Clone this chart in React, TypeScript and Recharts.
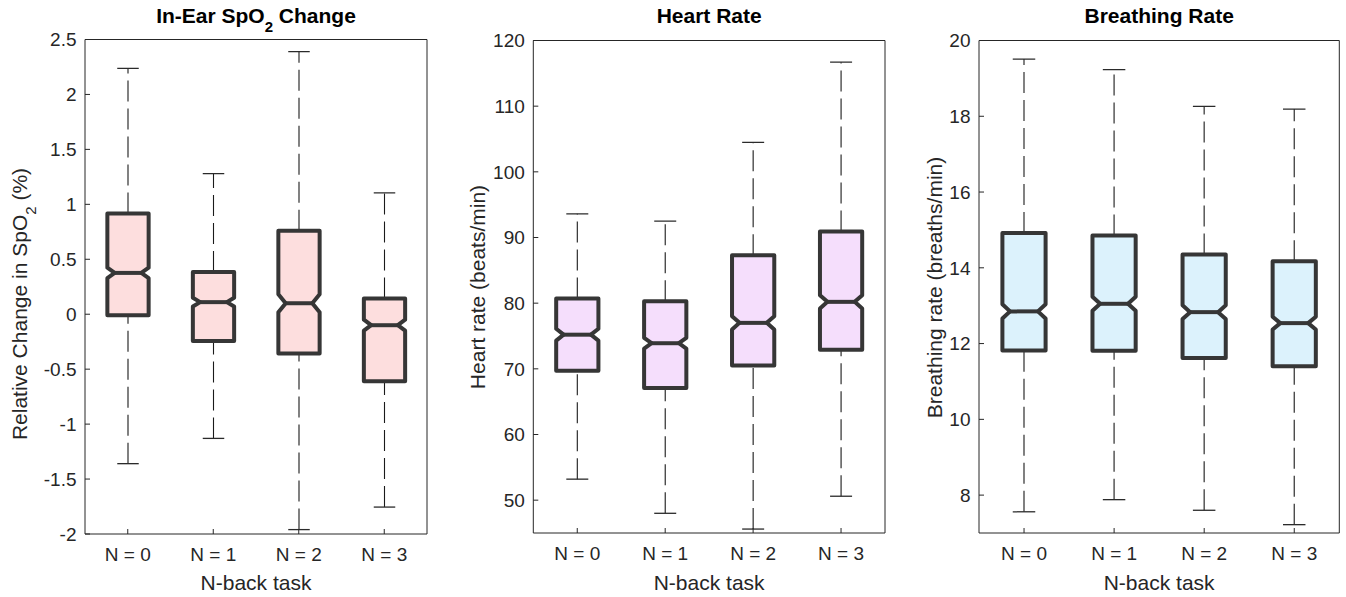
import React from "react";
import { Bar, ComposedChart, XAxis, YAxis } from "recharts";

const categories = ["N = 0", "N = 1", "N = 2", "N = 3"];

// In-Ear SpO2 change (%)
const spo2Min = [-1.36, -1.13, -1.96, -1.755];
const spo2Q1 = [-0.01, -0.243, -0.358, -0.61];
const spo2Median = [0.376, 0.11, 0.1, -0.1];
const spo2Q3 = [0.917, 0.385, 0.759, 0.143];
const spo2Max = [2.237, 1.28, 2.39, 1.105];
const spo2Notch = [0.048, 0.04, 0.082, 0.05];
const spo2Ticks = [-2, -1.5, -1, -0.5, 0, 0.5, 1, 1.5, 2, 2.5];

// Heart rate (beats/min)
const hrMin = [53.2, 48.0, 45.6, 50.6];
const hrQ1 = [69.7, 67.1, 70.5, 72.9];
const hrMedian = [75.2, 73.9, 77.0, 80.2];
const hrQ3 = [80.7, 80.3, 87.3, 90.9];
const hrMax = [93.6, 92.5, 104.5, 116.7];
const hrNotch = [0.9, 0.82, 1.0, 1.0];
const hrTicks = [50, 60, 70, 80, 90, 100, 110, 120];

// Breathing rate (breaths/min)
const brMin = [7.56, 7.88, 7.6, 7.22];
const brQ1 = [11.82, 11.81, 11.62, 11.4];
const brMedian = [12.85, 13.05, 12.83, 12.54];
const brQ3 = [14.92, 14.85, 14.35, 14.17];
const brMax = [19.51, 19.23, 18.26, 18.19];
const brNotch = [0.19, 0.185, 0.18, 0.17];
const brTicks = [8, 10, 12, 14, 16, 18, 20];

const W = 1346;
const H = 597;
const AXIS = "#262626";
const FONT = "'Liberation Sans', Arial, Helvetica, sans-serif";

function BoxShape(props: any) {
  const { x, y, width, height, payload, fill } = props;
  const [lo, hi] = payload.whisker;
  // y / height span the whisker range, so map values through that
  const toY = (v: number) => y + (height * (hi - v)) / (hi - lo);
  const cx = x + width / 2;
  const half = width * 0.24;
  const cap = width * 0.125;
  const k = width * 0.085;
  const L = cx - half;
  const R = cx + half;
  const yQ3 = toY(payload.q3);
  const yQ1 = toY(payload.q1);
  const yMed = toY(payload.median);
  const yNH = toY(payload.median + payload.notch);
  const yNL = toY(payload.median - payload.notch);
  const yMax = toY(hi);
  const yMin = toY(lo);
  const d = `M${L},${yQ3} H${R} V${yNH} L${R - k},${yMed} L${R},${yNL} V${yQ1} H${L} V${yNL} L${L + k},${yMed} L${L},${yNH} Z`;
  return (
    <g>
      <line x1={cx} y1={yMin} x2={cx} y2={yQ1} stroke="#1a1a1a" strokeWidth={1.1} strokeDasharray="21 7" />
      <line x1={cx} y1={yQ3} x2={cx} y2={yMax} stroke="#1a1a1a" strokeWidth={1.1} strokeDasharray="21 7" />
      <line x1={cx - cap} y1={yMax} x2={cx + cap} y2={yMax} stroke="#2a2a2a" strokeWidth={1.3} />
      <line x1={cx - cap} y1={yMin} x2={cx + cap} y2={yMin} stroke="#2a2a2a" strokeWidth={1.3} />
      <path d={d} fill={fill} stroke="#363636" strokeWidth={4} strokeLinejoin="round" />
      <line x1={L + k} y1={yMed} x2={R - k} y2={yMed} stroke="#363636" strokeWidth={4} />
    </g>
  );
}

function Panel(p: any) {
  const data = categories.map((name, i) => ({
    name,
    whisker: [p.min[i], p.max[i]],
    q1: p.q1[i],
    median: p.median[i],
    q3: p.q3[i],
    notch: p.notch[i],
  }));
  const cx = (p.left + p.right) / 2;
  return (
    <div style={{ position: "absolute", left: 0, top: 0 }}>
      <ComposedChart
        width={W}
        height={H}
        data={data}
        barCategoryGap={0}
        margin={{ top: p.top - 1, right: W - p.right - 1, bottom: H - p.bottom - 40, left: p.left - 60 }}
      >
        <XAxis
          dataKey="name"
          height={40}
          tickSize={-5}
          tickMargin={19}
          interval={0}
          axisLine={{ stroke: AXIS }}
          tickLine={{ stroke: AXIS }}
          tick={{ fontSize: 19, fill: AXIS }}
        />
        <XAxis
          xAxisId="top"
          dataKey="name"
          orientation="top"
          height={1}
          tickSize={-5}
          interval={0}
          tick={false}
          axisLine={{ stroke: AXIS }}
          tickLine={{ stroke: AXIS }}
        />
        <YAxis
          type="number"
          width={60}
          domain={p.domain}
          ticks={p.ticks}
          interval={0}
          allowDataOverflow
          tickSize={-5}
          tickMargin={13.5}
          axisLine={{ stroke: AXIS }}
          tickLine={{ stroke: AXIS }}
          tick={{ fontSize: 19, fill: AXIS }}
        />
        <YAxis
          yAxisId="right"
          orientation="right"
          type="number"
          width={1}
          domain={p.domain}
          ticks={p.ticks}
          interval={0}
          allowDataOverflow
          tickSize={-5}
          tick={false}
          axisLine={{ stroke: AXIS }}
          tickLine={{ stroke: AXIS }}
        />
        <Bar dataKey="whisker" fill={p.fill} shape={BoxShape} isAnimationActive={false} />
        <text x={cx} y={23} textAnchor="middle" fontSize={21} fontWeight="bold" fill="#000">
          {p.title}
        </text>
        <text x={cx} y={590} textAnchor="middle" fontSize={21} fill={AXIS}>
          N-back task
        </text>
        <text transform={`translate(${p.labelX},${p.labelY}) rotate(-90)`} textAnchor="middle" fontSize={21} fill={AXIS}>
          {p.yLabel}
        </text>
      </ComposedChart>
    </div>
  );
}

export default function App() {
  return (
    <div style={{ position: "absolute", left: 0, top: 0, width: W, height: H, fontFamily: FONT, background: "#fff" }}>
      <Panel
        left={85}
        right={427}
        top={39.5}
        bottom={534}
        domain={[-2, 2.5]}
        ticks={spo2Ticks}
        min={spo2Min}
        q1={spo2Q1}
        median={spo2Median}
        q3={spo2Q3}
        max={spo2Max}
        notch={spo2Notch}
        fill="#FDDEDE"
        labelX={27}
        labelY={304}
        title={
          <>
            <tspan>In-Ear SpO</tspan>
            <tspan dy={9} fontSize={15}>2</tspan>
            <tspan dy={-9}> Change</tspan>
          </>
        }
        yLabel={
          <>
            <tspan>Relative Change in SpO</tspan>
            <tspan dy={9} fontSize={15}>2</tspan>
            <tspan dy={-9}> (%)</tspan>
          </>
        }
      />
      <Panel
        left={533.3}
        right={885}
        top={40.5}
        bottom={533}
        domain={[45, 120]}
        ticks={hrTicks}
        min={hrMin}
        q1={hrQ1}
        median={hrMedian}
        q3={hrQ3}
        max={hrMax}
        notch={hrNotch}
        fill="#F5DEFC"
        labelX={485}
        labelY={287}
        title="Heart Rate"
        yLabel="Heart rate (beats/min)"
      />
      <Panel
        left={979}
        right={1339.3}
        top={40.5}
        bottom={533}
        domain={[7, 20]}
        ticks={brTicks}
        min={brMin}
        q1={brQ1}
        median={brMedian}
        q3={brQ3}
        max={brMax}
        notch={brNotch}
        fill="#DCF2FC"
        labelX={942}
        labelY={287.5}
        title="Breathing Rate"
        yLabel="Breathing rate (breaths/min)"
      />
    </div>
  );
}
